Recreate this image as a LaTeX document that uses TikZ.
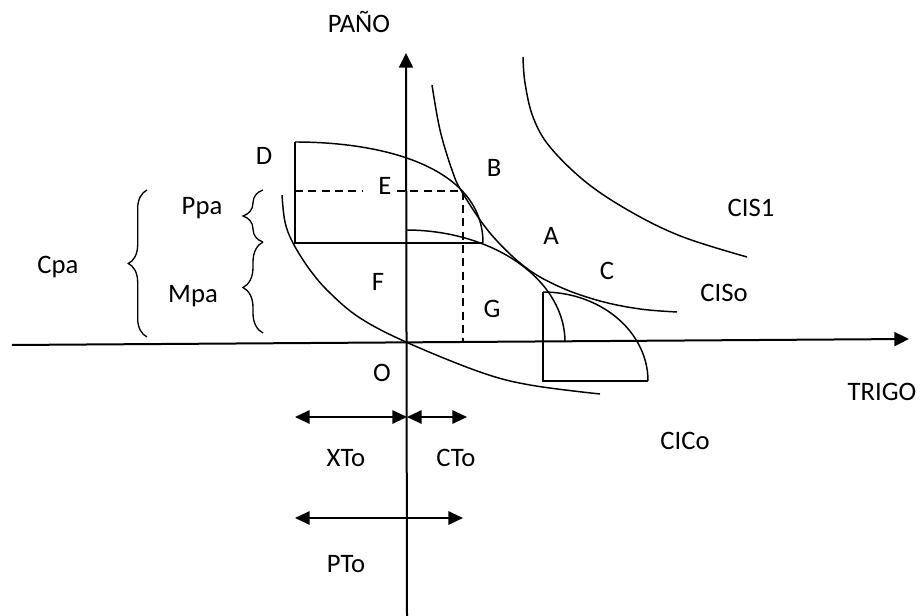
\documentclass[tikz,border=0pt]{standalone}
\usepackage{fontspec}
\setmainfont{Carlito}
\usetikzlibrary{arrows.meta,decorations.pathreplacing}

\begin{document}
\begin{tikzpicture}[x=0.75pt,y=-0.75pt,
  lbl/.style={font=\fontsize{20}{24}\selectfont, inner sep=0pt, anchor=base},
  axisline/.style={line width=1.5pt, -{Triangle[length=11pt,width=10.5pt]}},
  curve/.style={line width=1.1pt},
  blockline/.style={line width=1.4pt},
  guide/.style={line width=1.4pt, dash pattern=on 6pt off 4pt},
  span/.style={line width=1.5pt, {Triangle[length=11pt,width=10pt]}-{Triangle[length=11pt,width=10pt]}},
  bracket/.style={line width=1pt, decorate, decoration={brace, amplitude=#1}},
]
\useasboundingbox (0,0) rectangle (921,616);

% axes
\coordinate (ytop) at (406,53);
\coordinate (ybot) at (407,616);
\coordinate (xleft) at (12,345);
\coordinate (xright) at (909,339);
\draw[axisline] (ybot) -- (ytop);
\draw[axisline] (xleft) -- (xright);

% community indifference curves
\draw[curve] plot[smooth, tension=0.6] coordinates
  {(523,57) (525,83) (533,117) (550,147) (587,183) (633,213) (683,237) (747,257)};
\draw[curve] plot[smooth, tension=0.6] coordinates
  {(432,85) (440,130) (452,170) (462,192) (490,233) (525,267) (560,287) (600,301) (640,309) (677,312)};

% trade indifference curve
\draw[curve] plot[smooth, tension=0.6] coordinates
  {(282,195) (285,222) (293,243) (310,270) (330,293) (360,318) (406,342) (480,372) (530,385) (600,394)};

% production frontier at the origin
\draw[curve] plot[domain=90:0, samples=60] ({406+159*cos(\x)}, {342-112*sin(\x)});

% production block slid to D
\coordinate (Dtl) at (295,142);
\coordinate (Dbl) at (295,243);
\coordinate (Dbr) at (483,243);
\draw[blockline] (Dbr) -- (Dbl) -- (Dtl);
\draw[curve] (Dtl) .. controls (390,142) and (483,170) .. (Dbr);

% production block slid to C
\coordinate (Ctl) at (543,292);
\coordinate (Cbl) at (543,381);
\coordinate (Cbr) at (648,381);
\draw[blockline] (Cbr) -- (Cbl) -- (Ctl);
\draw[curve] plot[domain=90:0, samples=60] ({543+105*cos(\x)}, {381-89*sin(\x)});

% labels
\node[lbl] (pano) at (359,33) {PAÑO};
\node[lbl] (trigo) at (882,401) {TRIGO};
\node[lbl] (D) at (264,165) {D};
\node[lbl] (E) at (385,195) {E};
\node[lbl] (B) at (494,177) {B};
\node[lbl] (A) at (551,245) {A};
\node[lbl] (C) at (607,280) {C};
\node[lbl] (cis1) at (751,217) {CIS1};
\node[lbl] (ciso) at (724,302) {CISo};
\node[lbl] (F) at (378,291) {F};
\node[lbl] (G) at (492,318) {G};
\node[lbl] (O) at (382,382) {O};
\node[lbl] (cico) at (685,450) {CICo};
\node[lbl] (cpa) at (58,274) {Cpa};
\node[lbl] (ppa) at (202,215) {Ppa};
\node[lbl] (mpa) at (193,303) {Mpa};
\node[lbl] (xto) at (346,466) {XTo};
\node[lbl] (cto) at (456,466) {CTo};
\node[lbl] (pto) at (346,572) {PTo};

% dashed guides to the tangency point
\coordinate (Bt) at (463,191);
\coordinate (Bax) at (463,342);
\coordinate (Dmid) at (295,191);
\draw[guide] (Dmid) -- (362,191);
\draw[guide] (397,191) -- (Bt) -- (Bax);

% braces
\draw[bracket=14pt] (147,337) -- (147,190);
\draw[bracket=15pt] (263,242) -- (263,190);
\draw[bracket=15pt] (263,333) -- (263,242);

% trade volumes
\coordinate (x1) at (295,417);
\coordinate (x0) at (407,417);
\coordinate (x2) at (467,417);
\coordinate (p1) at (295,518);
\coordinate (p2) at (463,518);
\draw[span] (x1) -- (x0);
\draw[span] (x0) -- (x2);
\draw[span] (p1) -- (p2);
\end{tikzpicture}
\end{document}
